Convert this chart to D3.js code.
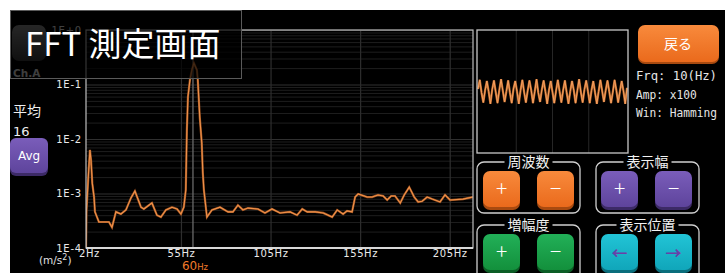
<!DOCTYPE html>
<html><head><meta charset="utf-8">
<script src="https://cdn.jsdelivr.net/npm/d3@7"></script>
<style>
html,body{margin:0;padding:0;background:#fff;overflow:hidden;}
svg{display:block;}
text{font-family:"DejaVu Sans",sans-serif;}
</style></head><body>
<svg id="c" width="725" height="273"></svg>
<script>
// ---------- data ----------
const freqs = [2,2.3,3.5,4.2,4.8,5.5,6.5,7,9.2,14.8,16.5,18.7,21.5,24.3,27.1,29.3,32.7,34.3,38.8,41.6,
  43.8,46.6,50,52.8,55,56.6,57.7,58.3,58.9,60,61.1,62.2,63.9,64.4,65.5,66.6,67.2,67.8,69.5,72.3,
  76.8,81.3,84,86.8,89.6,92.4,98,101.9,105.8,110.3,115.9,119.8,122.7,125.5,129.9,134.4,139.4,142.2,145.5,147.7,
  150.5,152.2,153.9,158.9,161.7,165,167.9,170.1,172.3,174.5,177.4,179.6,182.4,185.2,187.4,189.6,192.4,195.2,199.6,202.4,
  205.2,212.4,217.9];
const amps = [1.0e-4,5.0e-4,2.7e-3,6.3e-3,4.1e-3,1.55e-3,8.6e-4,4.6e-4,3.0e-4,3.0e-4,
  2.4e-4,4.6e-4,4.2e-4,5.0e-4,8.3e-4,1.11e-3,5.6e-4,5.2e-4,6.7e-4,4.0e-4,
  3.7e-4,5.0e-4,5.6e-4,5.2e-4,4.2e-4,5.6e-4,1.16e-3,1.46e-2,5.9e-2,0.121,
  0.185,0.248,0.185,0.121,2.5e-2,8.5e-3,2.4e-3,1.16e-3,3.7e-4,5.0e-4,
  5.6e-4,4.6e-4,4.6e-4,6.1e-4,5.0e-4,5.4e-4,5.2e-4,4.4e-4,5.2e-4,4.4e-4,
  4.6e-4,4.0e-4,5.2e-4,4.6e-4,4.6e-4,4.4e-4,3.7e-4,5.0e-4,4.2e-4,4.8e-4,
  4.6e-4,8.6e-4,9.8e-4,8.6e-4,8.6e-4,9.4e-4,9.0e-4,7.6e-4,9.0e-4,9.0e-4,
  6.7e-4,9.4e-4,1.31e-3,8.6e-4,7.0e-4,7.2e-4,8.6e-4,7.9e-4,7.0e-4,9.4e-4,
  7.6e-4,7.9e-4,8.6e-4];
const xTicks = [2,55,105,155,205];
const xTickLabels = ["2Hz","55Hz","105Hz","155Hz","205Hz"];
const yTicks = [1e-4,1e-3,1e-2,1e-1,1];
const yTickLabels = ["1E-4","1E-3","1E-2","1E-1","1E+0"];
const markerFreq = 61.7;
const markerNum = "60", markerUnit = "Hz";
const wave = [0.2,0.95,-0.1,-0.9,0.1,0.85,0.0,-1.0,0.15,0.9,-0.05,-0.95,0.1,1.0,0.05,-0.85,0.0,0.9,-0.1,-0.95,
  0.2,0.85,0.0,-1.0,0.1,0.95,-0.05,-0.9,0.05,0.9,0.1,-0.95,0.0,1.0,-0.1,-0.85,0.15,0.9,0.0,-1.0,
  0.1,0.85,-0.05,-0.95,0.05,0.95,0.0,-0.9,0.1,0.9,-0.1,-1.0,0.0,0.85,0.1,-0.95,0.05,1.0,-0.05,-0.9,
  0.15,0.9,0.0,-0.95,0.1,0.85,-0.1,-1.0,0.0,0.95,0.05,-0.85,0.1,0.9,0.0,-0.95,-0.05,0.95,0.1,-0.9,
  0.0,0.85,0.05,-1.0,0.3];
const infoLines = ["Frq:  10(Hz)","Amp: x100","Win: Hamming"];
const title = "FFT 測定画面";
const groupLabels = ["周波数","表示幅","増幅度","表示位置"];
const groupGlyphs = [["+","−"],["+","−"],["+","−"],["←","→"]];
const avgLabel = "平均", avgCount = "16", avgBtn = "Avg", chLabel = "Ch.A", backLabel = "戻る";

// ---------- drawing ----------
const svg = d3.select("#c");
const defs = svg.append("defs");
function grad(id, c1, c2){
  const g = defs.append("linearGradient").attr("id",id).attr("x1",0).attr("y1",0).attr("x2",0).attr("y2",1);
  g.append("stop").attr("offset","0%").attr("stop-color",c1);
  g.append("stop").attr("offset","100%").attr("stop-color",c2);
}
grad("gOrange","#f88a3c","#ea6a1c");
grad("gPurple","#7a5dba","#5e449c");
grad("gGreen","#22b058","#13903c");
grad("gCyan","#22c4d6","#10a6ba");
grad("gGrey","#8a8a8a","#3a3a3a");

svg.append("rect").attr("x",10).attr("y",10).attr("width",715).attr("height",263).attr("fill","#000");

const L=86,R=473,T=30,B=248;
const x = d3.scaleLinear().domain([2,218]).range([L,R]);
const y = d3.scaleLog().domain([1e-4,1]).range([B,T]);

// minor grid
const minor = [];
for (let d=-4; d<0; d++) for (let k=2;k<=9;k++) minor.push(k*Math.pow(10,d));
const gm = svg.append("g").attr("transform",`translate(${L},0)`)
  .call(d3.axisLeft(y).tickValues(minor).tickSize(-(R-L)).tickFormat(""));
gm.select(".domain").remove();
gm.selectAll("line").attr("stroke","#1e1e1e").attr("stroke-width",1);
const gM = svg.append("g").attr("transform",`translate(${L},0)`)
  .call(d3.axisLeft(y).tickValues(yTicks).tickSize(-(R-L)).tickFormat(""));
gM.select(".domain").remove();
gM.selectAll("line").attr("stroke","#303030").attr("stroke-width",1);
const gv = svg.append("g").attr("transform",`translate(0,${B})`)
  .call(d3.axisBottom(x).tickValues(xTicks.slice(1)).tickSize(-(B-T)).tickFormat(""));
gv.select(".domain").remove();
gv.selectAll("line").attr("stroke","#2e2e2e").attr("stroke-width",1.2);

// marker line
svg.append("line").attr("x1",x(markerFreq)).attr("x2",x(markerFreq)).attr("y1",T).attr("y2",B)
  .attr("stroke","#6a6a6a").attr("stroke-width",1.3);

// spectrum
defs.append("clipPath").attr("id","clipP").append("rect").attr("x",L).attr("y",T).attr("width",R-L).attr("height",B-T);
const line = d3.line().x((d,i)=>x(freqs[i])).y(d=>y(d));
svg.append("path").datum(amps).attr("d",line).attr("fill","none")
  .attr("stroke","#9a5020").attr("stroke-width",2.2).attr("clip-path","url(#clipP)");
svg.append("path").datum(amps).attr("d",line).attr("fill","none")
  .attr("stroke","#f0924a").attr("stroke-width",1.1).attr("clip-path","url(#clipP)");

// frame
svg.append("rect").attr("x",L).attr("y",T).attr("width",R-L).attr("height",B-T)
  .attr("fill","none").attr("stroke","#bdbdbd").attr("stroke-width",1.2);
svg.append("line").attr("x1",L).attr("x2",R).attr("y1",B).attr("y2",B).attr("stroke","#d8d8d8").attr("stroke-width",2);

// axes labels
const ax = svg.append("g").attr("transform",`translate(0,${B})`)
  .call(d3.axisBottom(x).tickValues(xTicks).tickFormat((d,i)=>xTickLabels[i]).tickSize(0).tickPadding(2));
ax.select(".domain").remove();
ax.selectAll("text").attr("fill","#eaeaea").style("font-size","10px").style("letter-spacing","0.6px")
  .attr("dx",(d,i)=> i===0 ? 3 : 0);
const ay = svg.append("g").attr("transform",`translate(${L},0)`)
  .call(d3.axisLeft(y).tickValues(yTicks).tickFormat((d,i)=>yTickLabels[i]).tickSize(0).tickPadding(4));
ay.select(".domain").remove();
ay.selectAll("text").attr("fill","#eaeaea").style("font-size","10px").style("letter-spacing","0.8px");

const ul = svg.append("text").attr("x",39).attr("y",264).attr("fill","#e0e0e0").style("font-size","10.5px");
ul.append("tspan").text("(m/s");
ul.append("tspan").attr("dy",-4).style("font-size","8px").text("2");
ul.append("tspan").attr("dy",4).text(")");
const mk = svg.append("text").attr("x",x(markerFreq)+2).attr("y",270).attr("text-anchor","middle").attr("fill","#f07a2a");
mk.append("tspan").style("font-size","12px").text(markerNum);
mk.append("tspan").style("font-size","8.5px").text(markerUnit);

// left panel
svg.append("text").attr("x",13).attr("y",116).attr("fill","#eee").style("font-family","'Noto Sans CJK JP'").style("font-size","14px").text(avgLabel);
svg.append("text").attr("x",13).attr("y",136).attr("fill","#eee").style("font-size","13px").text(avgCount);
svg.append("rect").attr("x",10).attr("y",140).attr("width",38).attr("height",36).attr("rx",6).attr("fill","#3c2a66");
svg.append("rect").attr("x",10).attr("y",138).attr("width",38).attr("height",35).attr("rx",6).attr("fill","url(#gPurple)");
svg.append("text").attr("x",29).attr("y",160).attr("text-anchor","middle").attr("fill","#fff").style("font-size","12px").text(avgBtn);
// Ch.A button (behind title)
svg.append("rect").attr("x",12).attr("y",25).attr("width",34).attr("height",36).attr("rx",7).attr("fill","url(#gGrey)");
svg.append("text").attr("x",13).attr("y",77).attr("fill","#ddd").style("font-size","10.5px").style("font-weight","bold").text(chLabel);

// title overlay
svg.append("rect").attr("x",10.5).attr("y",10.5).attr("width",231).attr("height",68)
  .attr("fill","rgba(0,0,0,0.72)").attr("stroke","#5a5a5a").attr("stroke-width",1);
svg.append("text").attr("x",25).attr("y",56).attr("fill","#fff")
  .style("font-family","'Noto Sans CJK JP'").style("font-size","33px").text(title);

// waveform box
const WL=477,WR=628,WT=30,WB=153;
const wg = svg.append("g");
const wx = d3.scaleLinear().domain([0,wave.length-1]).range([WL+1,WR-1]);
const wy = d3.scaleLinear().domain([-5,5]).range([WB,WT]);
[0.26,0.5,0.74].forEach(f=>{
  wg.append("line").attr("x1",WL+(WR-WL)*f).attr("x2",WL+(WR-WL)*f).attr("y1",WT).attr("y2",WB).attr("stroke","#262626");
});
wg.append("path").datum(wave).attr("d",d3.line().x((d,i)=>wx(i)).y(d=>wy(d)))
  .attr("fill","none").attr("stroke","#b8682c").attr("stroke-width",2.2);
wg.append("path").datum(wave).attr("d",d3.line().x((d,i)=>wx(i)).y(d=>wy(d)))
  .attr("fill","none").attr("stroke","#f7a060").attr("stroke-width",1);
wg.append("rect").attr("x",WL).attr("y",WT).attr("width",WR-WL).attr("height",WB-WT)
  .attr("fill","none").attr("stroke","#c8c8c8").attr("stroke-width",1.3);

// back button
svg.append("rect").attr("x",638).attr("y",27).attr("width",81).attr("height",37).attr("rx",7).attr("fill","#a84a10");
svg.append("rect").attr("x",638).attr("y",25).attr("width",81).attr("height",37).attr("rx",7).attr("fill","url(#gOrange)");
svg.append("text").attr("x",678).attr("y",49).attr("text-anchor","middle").attr("fill","#fff")
  .style("font-family","'Noto Sans CJK JP'").style("font-size","14px").text(backLabel);

// info text
infoLines.forEach((t,i)=>{
  svg.append("text").attr("x",636).attr("y",80+i*18.5).attr("fill","#e6e6e6")
    .style("font-family","'DejaVu Sans Mono'").style("font-size","12.5px")
    .attr("textLength",t.length*6.75).attr("lengthAdjust","spacingAndGlyphs").text(t);
});

// button groups
const gpos = [[477,162],[596,162],[477,225],[596,225]];
const fills = ["url(#gOrange)","url(#gPurple)","url(#gGreen)","url(#gCyan)"];
const shades = ["#a84a10","#3c2a66","#0c5e26","#0a6e7c"];
groupLabels.forEach((lab,i)=>{
  const [gx0,gy0] = gpos[i];
  const g = svg.append("g");
  g.append("rect").attr("x",gx0).attr("y",gy0).attr("width",103).attr("height",i<2?51:60).attr("rx",7)
    .attr("fill","none").attr("stroke","#cfcfcf").attr("stroke-width",1.3);
  const lw = lab.length*14+6;
  g.append("rect").attr("x",gx0+51.5-lw/2).attr("y",gy0-8).attr("width",lw).attr("height",14).attr("fill","#000");
  g.append("text").attr("x",gx0+51.5).attr("y",gy0+5).attr("text-anchor","middle").attr("fill","#f2f2f2")
    .style("font-family","'Noto Sans CJK JP'").style("font-size","14px").text(lab);
  groupGlyphs[i].forEach((gl,j)=>{
    const bx = gx0 + (i%2===0 ? 6 : 5) + j*54, by = gy0+9;
    g.append("rect").attr("x",bx).attr("y",by+2).attr("width",37).attr("height",37).attr("rx",7).attr("fill",shades[i]);
    g.append("rect").attr("x",bx).attr("y",by).attr("width",37).attr("height",36).attr("rx",7).attr("fill",fills[i]);
    g.append("text").attr("x",bx+18.5).attr("y",by+25).attr("text-anchor","middle")
      .attr("fill", i===3 ? "#6a3fa8" : "#fff")
      .style("font-family","'Noto Sans CJK JP'").style("font-weight", i===3?"bold":"300")
      .style("font-size", i===3 ? "16px" : "21px").text(gl);
  });
});
</script>
</body></html>
